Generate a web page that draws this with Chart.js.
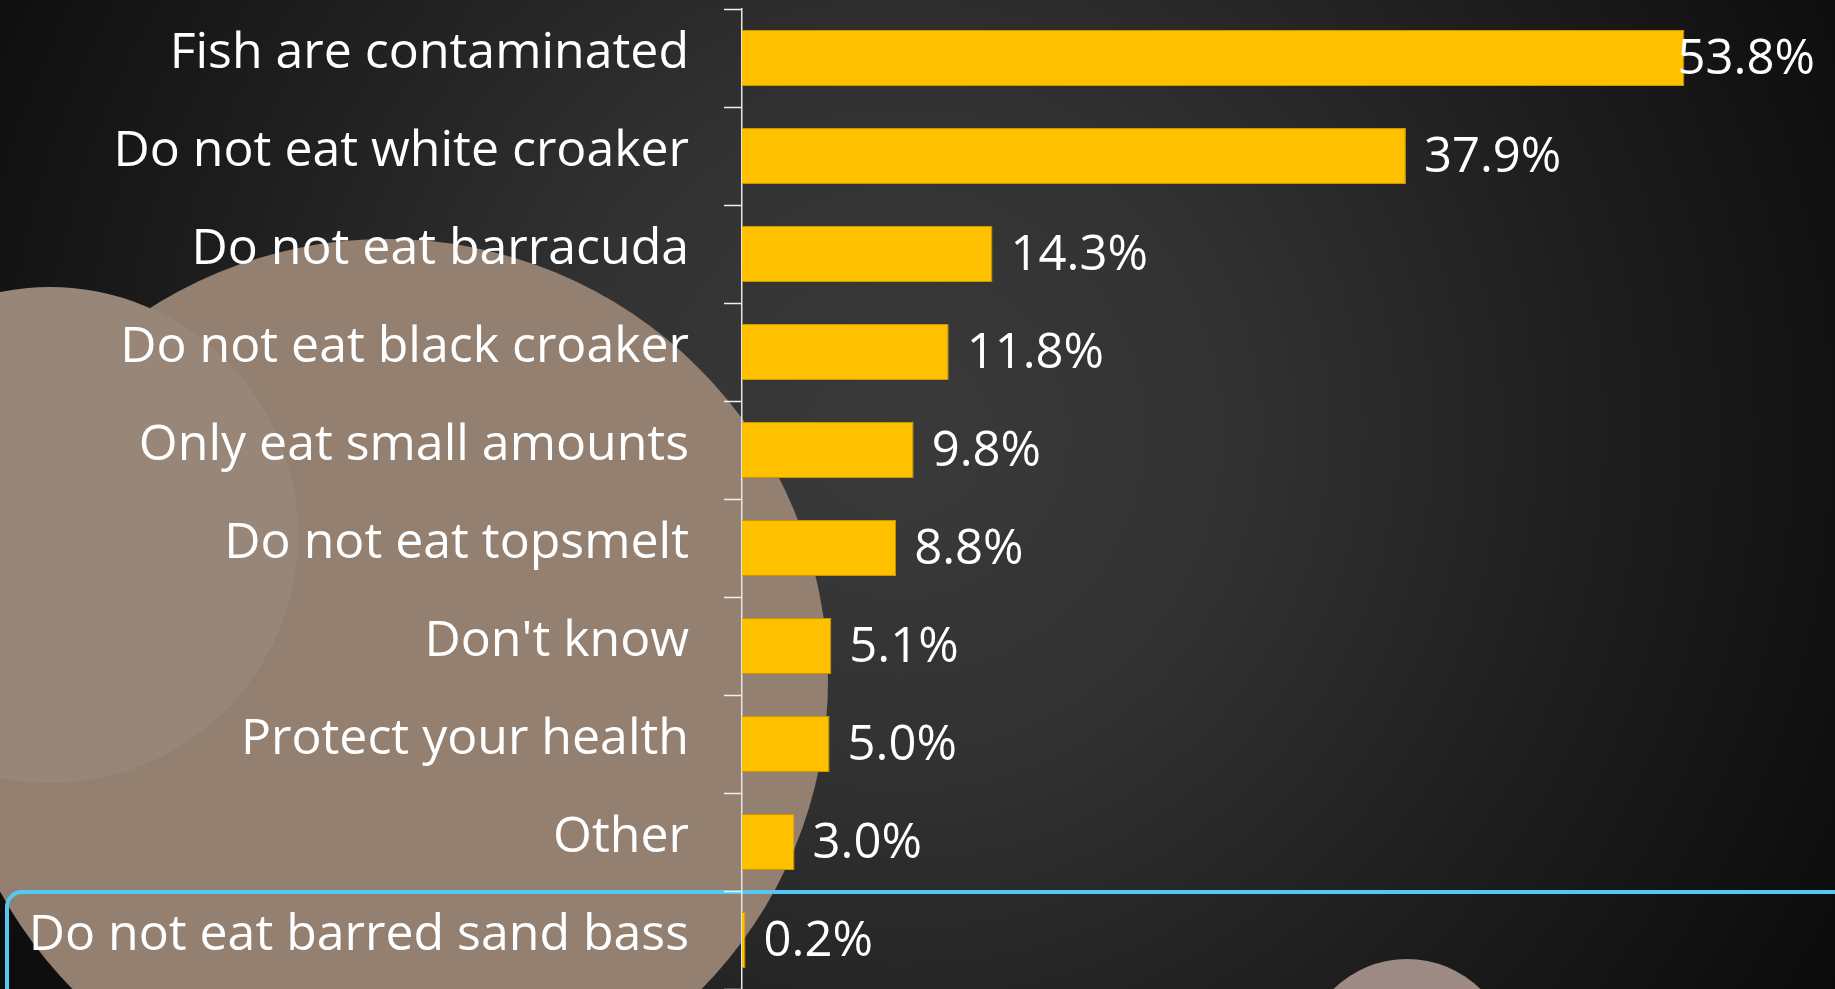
<!DOCTYPE html>
<html>
<head>
<meta charset="utf-8">
<title>Advisory messages recalled</title>
<script src="https://cdn.jsdelivr.net/npm/chart.js@4.4.0/dist/chart.umd.min.js"></script>
<style>
  html, body { margin: 0; padding: 0; background: #0b0b0b; overflow: hidden; }
  #wrap { position: relative; width: 1835px; height: 989px; }
  canvas { display: block; }
</style>
</head>
<body>
<div id="wrap"><canvas id="chart" width="1835" height="989"></canvas></div>
<script>
// Responses, top to bottom
const categories = [
  'Fish are contaminated',
  'Do not eat white croaker',
  'Do not eat barracuda',
  'Do not eat black croaker',
  'Only eat small amounts',
  'Do not eat topsmelt',
  "Don't know",
  'Protect your health',
  'Other',
  'Do not eat barred sand bass'
];
// Share of respondents (%)
const shares = [53.8, 37.9, 14.3, 11.8, 9.8, 8.8, 5.1, 5.0, 3.0, 0.2];
const axisMax = 60;

const FONT = "'Open Sans', 'DejaVu Sans', sans-serif";

// Dark radial backdrop with the soft tan discs and the blue highlight frame
const backdrop = {
  id: 'backdrop',
  beforeDraw(chart) {
    const { ctx, width, height } = chart;
    ctx.save();
    const g = ctx.createRadialGradient(900, 430, 0, 900, 430, 1100);
    g.addColorStop(0, '#3a3a3a');
    g.addColorStop(0.3, '#323232');
    g.addColorStop(0.65, '#1d1d1d');
    g.addColorStop(1, '#0a0a0a');
    ctx.fillStyle = g;
    ctx.fillRect(0, 0, width, height);

    const disc = (x, y, r, c) => {
      ctx.beginPath();
      ctx.arc(x, y, r, 0, Math.PI * 2);
      ctx.fillStyle = c;
      ctx.fill();
    };
    disc(387, 680, 441, 'rgb(148,128,113)');
    disc(50, 535, 248, 'rgb(152,135,120)');
    disc(1407, 1064, 105, 'rgb(158,138,132)');

    // rounded frame around the last row, running off the right and bottom
    const x0 = 7, y0 = 892, r = 15, x1 = width + 20, y1 = height + 20;
    ctx.beginPath();
    ctx.moveTo(x1, y0);
    ctx.lineTo(x0 + r, y0);
    ctx.arcTo(x0, y0, x0, y0 + r, r);
    ctx.lineTo(x0, y1);
    ctx.strokeStyle = '#55c8f0';
    ctx.lineWidth = 4;
    ctx.stroke();
    ctx.restore();
  }
};

// Percentage labels just past each bar end, kept inside the canvas
const valueLabels = {
  id: 'valueLabels',
  afterDatasetsDraw(chart) {
    const { ctx } = chart;
    const meta = chart.getDatasetMeta(0);
    ctx.save();
    ctx.font = '49px ' + FONT;
    ctx.fillStyle = '#ffffff';
    ctx.textAlign = 'left';
    ctx.textBaseline = 'middle';
    meta.data.forEach((bar, i) => {
      const txt = shares[i].toFixed(1) + '%';
      const w = ctx.measureText(txt).width;
      const x = Math.min(bar.x + 18, chart.width - 20 - w);
      ctx.fillText(txt, x, bar.y + 2);
    });
    ctx.restore();
  }
};

function build() {
  new Chart(document.getElementById('chart'), {
    type: 'bar',
    data: {
      labels: categories,
      datasets: [{
        data: shares,
        backgroundColor: '#FFC000',
        borderColor: '#c99800',
        borderWidth: 1,
        barPercentage: 0.571,
        categoryPercentage: 1
      }]
    },
    options: {
      indexAxis: 'y',
      responsive: false,
      animation: false,
      devicePixelRatio: 1,
      layout: { padding: { top: 9, right: 42, bottom: 0, left: 0 } },
      plugins: { legend: { display: false }, tooltip: { enabled: false } },
      scales: {
        x: { display: false, min: 0, max: axisMax },
        y: {
          afterFit(scale) {
            scale.width = 742;
            scale.paddingTop = 0;
            scale.paddingBottom = 0;
          },
          grid: {
            offset: true,
            drawOnChartArea: false,
            drawTicks: true,
            tickLength: 18,
            tickColor: '#f0f0f0',
            tickWidth: 1.5
          },
          border: { display: true, color: '#e6e6e6', width: 1.5 },
          ticks: {
            color: '#ffffff',
            font: { family: FONT, size: 50 },
            padding: 35,
            labelOffset: -4,
            autoSkip: false
          }
        }
      }
    },
    plugins: [backdrop, valueLabels]
  });
}

if (document.fonts && document.fonts.load) {
  document.fonts.load("48px 'Open Sans'").then(build, build);
} else {
  build();
}
</script>
</body>
</html>
